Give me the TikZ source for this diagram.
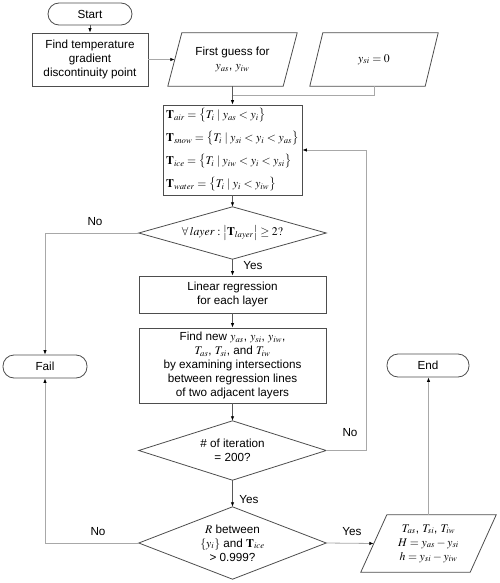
\documentclass[tikz,border=0pt]{standalone}
\usepackage{mathptmx}
\usepackage[no-math]{fontspec}
\setmainfont{Liberation Sans}
\usetikzlibrary{arrows.meta}
\definecolor{bordc}{HTML}{4D4D4D}
\definecolor{lineL}{HTML}{A8A8A8}
\definecolor{lineD}{HTML}{595959}
\begin{document}
\begin{tikzpicture}[x=1pt,y=-1pt,
  every node/.style={font=\fontsize{11.7}{14}\selectfont},
  box/.style={draw=bordc, line width=0.8pt, fill=white, align=center, inner sep=1pt},
  term/.style={box, rounded corners=11pt},
  ghost/.style={inner sep=0pt, align=center},
  shp/.style={draw=bordc, line width=0.8pt},
  conn/.style={draw=lineL, line width=0.8pt, -{Latex[length=4.5pt,width=3.5pt,color=black]}},
  connd/.style={conn, draw=lineD},
  plain/.style={draw=lineL, line width=0.8pt},
  lbl/.style={inner sep=0pt}]
\useasboundingbox (0,0) rectangle (500,583);

% nodes
\node[term, minimum width=84pt, minimum height=22pt] (start) at (90,14) {Start};
\node[box, minimum width=116pt, minimum height=53pt] (find) at (90,59.5) {Find temperature\\gradient\\discontinuity point};
\node[ghost, minimum width=115pt, minimum height=53pt] (fg) at (232.5,59.5) {First guess for\\$y_{as}$, $y_{iw}$};
\draw[shp] ([xshift=7pt]fg.north west) -- ([xshift=7pt]fg.north east) -- ([xshift=-7pt]fg.south east) -- ([xshift=-7pt]fg.south west) -- cycle;
\node[ghost, minimum width=115pt, minimum height=53pt] (ysi) at (374,59.5) {$y_{si}=0$};
\draw[shp] ([xshift=6.5pt]ysi.north west) -- ([xshift=6.5pt]ysi.north east) -- ([xshift=-6.5pt]ysi.south east) -- ([xshift=-6.5pt]ysi.south west) -- cycle;

\node[box, minimum width=139pt, minimum height=90pt, align=left, inner xsep=1.5pt,
  font=\fontsize{11.7}{23}\selectfont] (tbox) at (232.5,150)
  {$\mathbf{T}_{air} = \bigl\{ T_i \mid y_{as} < y_i \bigr\}$\\
   $\mathbf{T}_{snow} = \bigl\{ T_i \mid y_{si} < y_i < y_{as} \bigr\}$\\
   $\mathbf{T}_{ice} = \bigl\{ T_i \mid y_{iw} < y_i < y_{si} \bigr\}$\\
   $\mathbf{T}_{water} = \bigl\{ T_i \mid y_i < y_{iw} \bigr\}$};

\node[ghost, minimum width=187pt, minimum height=52pt] (d1) at (232.5,233)
  {$\forall\, layer : \bigl|\mathbf{T}_{layer}\bigr| \geq 2?$};
\draw[shp] (d1.west) -- (d1.north) -- (d1.east) -- (d1.south) -- cycle;

\node[box, minimum width=187pt, minimum height=37pt] (lin) at (232.5,294.5) {Linear regression\\for each layer};
\node[box, minimum width=187pt, minimum height=75pt] (fn) at (232.5,365.5)
  {Find new $y_{as}$, $y_{si}$, $y_{iw}$,\\$T_{as}$, $T_{si}$, and $T_{iw}$\\by examining intersections\\between regression lines\\of two adjacent layers};

\node[ghost, minimum width=187pt, minimum height=59pt] (d2) at (232.5,450.5) {\# of iteration\\= 200?};
\draw[shp] (d2.west) -- (d2.north) -- (d2.east) -- (d2.south) -- cycle;

\node[ghost, minimum width=187pt, minimum height=72pt] (d3) at (232.5,543) {$R$ between\\$\{y_i\}$ and $\mathbf{T}_{ice}$\\> 0.999?};
\draw[shp] (d3.west) -- (d3.north) -- (d3.east) -- (d3.south) -- cycle;

\node[term, minimum width=84pt, minimum height=23pt] (fail) at (45,366.5) {Fail};
\node[term, minimum width=82pt, minimum height=23pt] (end) at (428,365.5) {End};

\node[ghost, minimum width=109pt, minimum height=57pt] (out) at (428.5,543.5)
  {$T_{as}$, $T_{si}$, $T_{iw}$\\$H = y_{as} - y_{si}$\\$h = y_{si} - y_{iw}$};
\draw[shp] ([xshift=13pt]out.north west) -- ([xshift=13pt]out.north east) -- ([xshift=-13pt]out.south east) -- ([xshift=-13pt]out.south west) -- cycle;

% connectors
\coordinate (mrg) at (232.5,95);
\coordinate (loop) at (366,450.5);
\draw[connd] (start.south) -- (find.north);
\draw[conn] (find.east) -- (fg.west);
\draw[plain] (ysi.south) |- (mrg);
\draw[connd] (fg.south) -- (tbox.north);
\draw[connd] (tbox.south) -- (d1.north);
\draw[connd] (d1.south) -- (lin.north);
\draw[connd] (lin.south) -- (fn.north);
\draw[connd] (fn.south) -- (d2.north);
\draw[connd] (d2.south) -- (d3.north);
\draw[conn] (d2.east) -- (loop) |- (tbox.east);
\draw[conn] (d1.west) -| (fail.north);
\draw[conn] (d3.west) -| (fail.south);
\draw[conn] (d3.east) -- (out.west);
\draw[conn] (out.north) -- (out.north |- end.south);

% labels
\node[lbl] (l1) at (95,222) {No};
\node[lbl] (l2) at (253,266) {Yes};
\node[lbl] (l3) at (350,433) {No};
\node[lbl] (l4) at (249,500) {Yes};
\node[lbl] (l5) at (98,532) {No};
\node[lbl] (l6) at (352,532) {Yes};
\end{tikzpicture}
\end{document}
